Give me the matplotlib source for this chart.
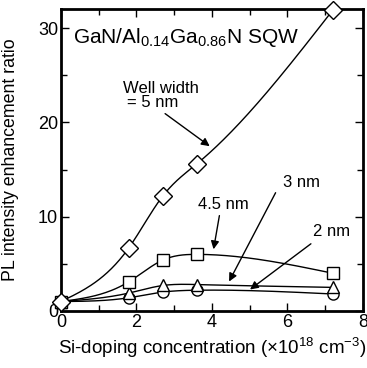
import numpy as np
import matplotlib
matplotlib.use("Agg")
import matplotlib.pyplot as plt

plt.rcParams['font.family'] = ['Liberation Sans', 'DejaVu Sans']
plt.rcParams['mathtext.fontset'] = 'custom'
plt.rcParams['mathtext.rm'] = 'Liberation Sans'

# Si-doping concentration (x10^18 cm^-3)
x_dop = [0, 1.8, 2.7, 3.6, 7.2]
# PL intensity enhancement ratio for each well width
w5 = [1.0, 6.7, 12.2, 15.6, 31.9]
w45 = [1.0, 3.1, 5.4, 6.0, 4.0]
w3 = [1.0, 1.9, 2.7, 2.8, 2.5]
w2 = [1.0, 1.4, 2.0, 2.2, 1.8]


def spline(x, y, n=200):
    # natural cubic spline, only used to draw the smooth guide line
    x = np.asarray(x, float)
    y = np.asarray(y, float)
    k = len(x)
    h = np.diff(x)
    A = np.zeros((k, k))
    b = np.zeros(k)
    A[0, 0] = A[-1, -1] = 1
    for i in range(1, k - 1):
        A[i, i - 1] = h[i - 1]
        A[i, i] = 2 * (h[i - 1] + h[i])
        A[i, i + 1] = h[i]
        b[i] = 6 * ((y[i + 1] - y[i]) / h[i] - (y[i] - y[i - 1]) / h[i - 1])
    M = np.linalg.solve(A, b)
    xs = np.linspace(x[0], x[-1], n)
    idx = np.clip(np.searchsorted(x, xs) - 1, 0, k - 2)
    x0, x1 = x[idx], x[idx + 1]
    hh = x1 - x0
    ys = (M[idx] * (x1 - xs) ** 3 / (6 * hh) + M[idx + 1] * (xs - x0) ** 3 / (6 * hh)
          + (y[idx] / hh - M[idx] * hh / 6) * (x1 - xs)
          + (y[idx + 1] / hh - M[idx + 1] * hh / 6) * (xs - x0))
    return xs, ys


fig = plt.figure(figsize=(3.67, 3.68), dpi=100)
ax = fig.add_axes([0.166, 0.155, 0.823, 0.82])

for ys, m, ms in [(w2, 'o', 8), (w3, '^', 8.5), (w45, 's', 8.5), (w5, 'D', 9)]:
    xs, yy = spline(x_dop, ys)
    ax.plot(xs, yy, color='black', lw=1.0, zorder=2)
    ax.plot(x_dop, ys, m, ms=ms, mfc='white', mec='black', mew=1.0,
            zorder=3, clip_on=False)

ax.set_xlim(0, 8)
ax.set_ylim(0, 32)
ax.set_xticks([0, 2, 4, 6, 8])
ax.set_xticks([1, 3, 5, 7], minor=True)
ax.set_yticks([0, 10, 20, 30])
ax.set_yticks([5, 15, 25], minor=True)
ax.tick_params(which='both', direction='in', top=True, right=True, labelsize=13)
ax.tick_params(which='major', length=6, width=1, pad=2)
ax.tick_params(which='minor', length=4, width=1)
for s in ax.spines.values():
    s.set_linewidth(2)

ax.set_xlabel('Si-doping concentration (\u00d710$^{18}$ cm$^{-3}$)', fontsize=13.5, labelpad=3)
ax.set_ylabel('PL intensity enhancement ratio', fontsize=12.8)
ax.yaxis.set_label_coords(-0.14, 0.5)

ax.text(0.32, 28.4, 'GaN/Al$_{0.14}$Ga$_{0.86}$N SQW', fontsize=15, va='baseline')
ax.text(1.64, 23.1, 'Well width', fontsize=12, va='baseline')
ax.text(1.74, 21.6, '= 5 nm', fontsize=12, va='baseline')
arrow = dict(arrowstyle='-|>', color='black', lw=1, mutation_scale=12)
ax.annotate('', xy=(4.0, 17.3), xytext=(2.7, 21.1), arrowprops=arrow)
ax.text(4.29, 10.8, '4.5 nm', fontsize=12, ha='center', va='baseline')
ax.annotate('', xy=(4.03, 6.25), xytext=(4.21, 10.4), arrowprops=arrow)
ax.text(6.36, 13.1, '3 nm', fontsize=12, ha='center', va='baseline')
ax.annotate('', xy=(4.42, 2.86), xytext=(5.72, 12.8), arrowprops=arrow)
ax.text(7.18, 7.9, '2 nm', fontsize=12, ha='center', va='baseline')
ax.annotate('', xy=(4.95, 2.1), xytext=(6.68, 7.3), arrowprops=arrow)

fig.savefig('out.png', dpi=100)
